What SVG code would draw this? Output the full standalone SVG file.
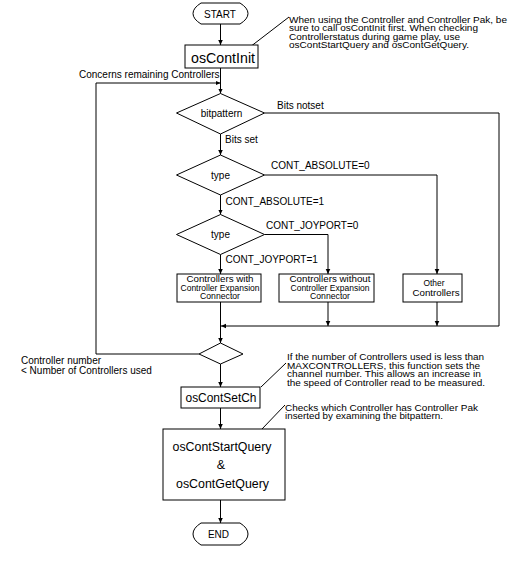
<svg xmlns="http://www.w3.org/2000/svg" width="528" height="564" viewBox="0 0 528 564">
<style>
.s{fill:#fff;stroke:#000;stroke-width:1}
.c{fill:none;stroke:#000;stroke-width:1}
text{font-family:"Liberation Sans",Arial,sans-serif;fill:#000}
.t{font-size:10px}
.n{font-size:9px}
.m{text-anchor:middle}
</style>
<defs>
<marker id="a" markerUnits="userSpaceOnUse" markerWidth="6" markerHeight="6" refX="5" refY="3" orient="auto">
<path d="M0,0.7 L5,3 L0,5.3 Z" fill="#000"/>
</marker>
</defs>
<rect width="528" height="564" fill="#fff"/>
<g id="connectors">
<path class="c" d="M220.5,24 V45" marker-end="url(#a)"/>
<path class="c" d="M220.5,68 V93.5" marker-end="url(#a)"/>
<path class="c" d="M199,354 H96 V83 H220.5" marker-end="url(#a)"/>
<path class="c" d="M264.5,113 H499 V326 H221" marker-end="url(#a)"/>
<path class="c" d="M220.5,134 V155" marker-end="url(#a)"/>
<path class="c" d="M264.5,175 H437 V274" marker-end="url(#a)"/>
<path class="c" d="M220.5,195 V214.5" marker-end="url(#a)"/>
<path class="c" d="M264.5,234.5 H328 V274" marker-end="url(#a)"/>
<path class="c" d="M220.5,254.5 V274" marker-end="url(#a)"/>
<path class="c" d="M220.5,302 V343" marker-end="url(#a)"/>
<path class="c" d="M328,302 V326" marker-end="url(#a)"/>
<path class="c" d="M437,302 V326" marker-end="url(#a)"/>
<path class="c" d="M220.5,364 V387" marker-end="url(#a)"/>
<path class="c" d="M220.5,408 V429" marker-end="url(#a)"/>
<path class="c" d="M220.5,500 V523" marker-end="url(#a)"/>
<path class="c" d="M250,47 L289,17"/>
<path class="c" d="M261,387 L286,363"/>
<path class="c" d="M262,429 L285,405"/>
<text class="t" x="79" y="78">Concerns remaining Controllers</text>
<text class="t" x="277" y="108.5">Bits notset</text>
<text class="t" x="225" y="143">Bits set</text>
<text class="t" x="271" y="169">CONT_ABSOLUTE=0</text>
<text class="t" x="225.5" y="204.5">CONT_ABSOLUTE=1</text>
<text class="t" x="266" y="229">CONT_JOYPORT=0</text>
<text class="t" x="225.5" y="263">CONT_JOYPORT=1</text>
<text class="t" x="21" y="364">Controller number</text>
<text class="t" x="21" y="374">&lt; Number of Controllers used</text>
</g>
<g id="start">
<path class="s" d="M201,3 H240 Q248,8 248,13.5 Q248,19 240,24 H201 Q193,19 193,13.5 Q193,8 201,3 Z"/>
<text class="m" x="220" y="17.5" font-size="10">START</text>
</g>
<g id="osContInit">
<rect class="s" x="185" y="45" width="73" height="23"/>
<text class="m" x="223" y="63" font-size="14" textLength="64" lengthAdjust="spacingAndGlyphs">osContInit</text>
</g>
<g id="note1">
<text class="n" x="289" y="22.5" textLength="218" lengthAdjust="spacingAndGlyphs">When using the Controller and Controller Pak, be</text>
<text class="n" x="289" y="31" textLength="189" lengthAdjust="spacingAndGlyphs">sure to call osContInit first. When checking</text>
<text class="n" x="289" y="39.5" textLength="171" lengthAdjust="spacingAndGlyphs">Controllerstatus during game play, use</text>
<text class="n" x="289" y="48" textLength="180" lengthAdjust="spacingAndGlyphs">osContStartQuery and osContGetQuery.</text>
</g>
<g id="bitpattern">
<path class="s" d="M220.5,93.5 L264.5,113 L220.5,134 L176.5,113 Z"/>
<text class="t m" x="221.5" y="117">bitpattern</text>
</g>
<g id="type1">
<path class="s" d="M220.5,155 L264.5,175 L220.5,195 L176.5,175 Z"/>
<text class="t m" x="220.5" y="178.5">type</text>
</g>
<g id="type2">
<path class="s" d="M220.5,214.5 L264.5,234.5 L220.5,254.5 L176.5,234.5 Z"/>
<text class="t m" x="220.5" y="238">type</text>
</g>
<g id="boxA">
<rect class="s" x="177" y="274" width="84" height="28"/>
<text class="n m" x="220" y="282" textLength="67" lengthAdjust="spacingAndGlyphs">Controllers with</text>
<text class="n m" x="220" y="290.7" textLength="79" lengthAdjust="spacingAndGlyphs">Controller Expansion</text>
<text class="n m" x="220" y="299.4" textLength="40" lengthAdjust="spacingAndGlyphs">Connector</text>
</g>
<g id="boxB">
<rect class="s" x="279" y="274" width="95" height="28"/>
<text class="n m" x="330" y="282" textLength="81" lengthAdjust="spacingAndGlyphs">Controllers without</text>
<text class="n m" x="330" y="290.7" textLength="79" lengthAdjust="spacingAndGlyphs">Controller Expansion</text>
<text class="n m" x="330" y="299.4" textLength="40" lengthAdjust="spacingAndGlyphs">Connector</text>
</g>
<g id="boxC">
<rect class="s" x="403" y="274" width="59" height="28"/>
<text class="n m" x="434" y="285.5" textLength="21" lengthAdjust="spacingAndGlyphs">Other</text>
<text class="n m" x="436" y="295.5" textLength="47" lengthAdjust="spacingAndGlyphs">Controllers</text>
</g>
<g id="loopcheck">
<path class="s" d="M220.5,343 L243,354 L220.5,364 L199,354 Z"/>
</g>
<g id="osContSetCh">
<rect class="s" x="181" y="387" width="79" height="21"/>
<text class="m" x="221" y="402" font-size="12" textLength="71" lengthAdjust="spacingAndGlyphs">osContSetCh</text>
</g>
<g id="note2">
<text class="n" x="287" y="360" textLength="197" lengthAdjust="spacingAndGlyphs">If the number of Controllers used is less than</text>
<text class="n" x="287" y="368.5" textLength="193" lengthAdjust="spacingAndGlyphs">MAXCONTROLLERS, this function sets the</text>
<text class="n" x="287" y="377" textLength="194" lengthAdjust="spacingAndGlyphs">channel number. This allows an increase in</text>
<text class="n" x="287" y="385.5" textLength="198" lengthAdjust="spacingAndGlyphs">the speed of Controller read to be measured.</text>
</g>
<g id="note3">
<text class="n" x="285" y="410.5" textLength="193" lengthAdjust="spacingAndGlyphs">Checks which Controller has Controller Pak</text>
<text class="n" x="285" y="419" textLength="158" lengthAdjust="spacingAndGlyphs">inserted by examining the bitpattern.</text>
</g>
<g id="query">
<rect class="s" x="163" y="429" width="122" height="71"/>
<text class="m" x="222" y="451" font-size="12.5" textLength="99" lengthAdjust="spacingAndGlyphs">osContStartQuery</text>
<text class="m" x="221" y="469" font-size="12.5">&amp;</text>
<text class="m" x="222.5" y="487.5" font-size="12.5" textLength="93" lengthAdjust="spacingAndGlyphs">osContGetQuery</text>
</g>
<g id="end">
<path class="s" d="M201,523 H240 Q248,528 248,534 Q248,540 240,545 H201 Q193,540 193,534 Q193,528 201,523 Z"/>
<text class="m" x="218.5" y="538" font-size="10">END</text>
</g>
</svg>
